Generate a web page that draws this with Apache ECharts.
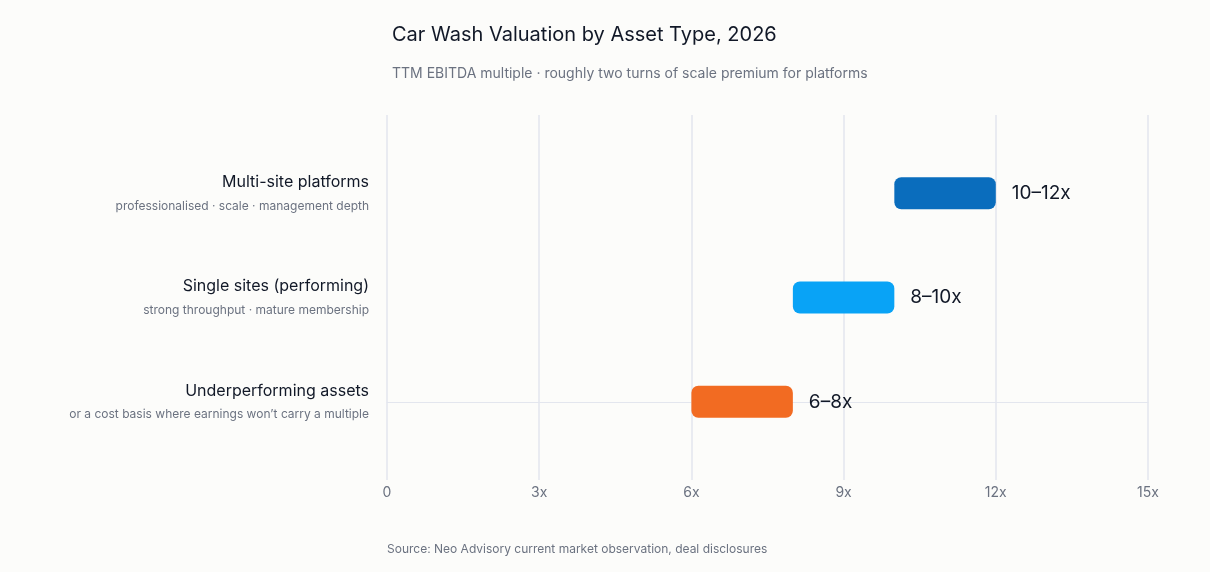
<!DOCTYPE html>
<html><head><meta charset="utf-8">
<script src="https://cdn.jsdelivr.net/npm/echarts@6/dist/echarts.min.js"></script>
<style>html,body{margin:0;background:#fcfcfa}#c{width:1210px;height:572px}</style>
</head><body><div id="c"></div>
<script>
const names = ['Underperforming assets', 'Single sites (performing)', 'Multi-site platforms'];
const notes = ['or a cost basis where earnings won\u2019t carry a multiple', 'strong throughput \u00b7 mature membership', 'professionalised \u00b7 scale \u00b7 management depth'];
const lows = [6, 8, 10];
const highs = [8, 10, 12];
const rangeLabels = ['6\u20138x', '8\u201310x', '10\u201312x'];
const colors = ['#F26B22', '#09A3F6', '#0A6DBD'];
const tickLabels = {0: '0', 3: '3x', 6: '6x', 9: '9x', 12: '12x', 15: '15x'};

const data = names.map((n, i) => [lows[i], highs[i], i]);
const font = 'Inter, "Noto Sans", sans-serif';

const chart = echarts.init(document.getElementById('c'));
chart.setOption({
  backgroundColor: '#fcfcfa',
  title: {
    text: 'Car Wash Valuation by Asset Type, 2026',
    subtext: 'TTM EBITDA multiple \u00b7 roughly two turns of scale premium for platforms',
    left: 387, top: 20, itemGap: 22,
    textStyle: {fontFamily: font, fontSize: 20, fontWeight: 'normal', color: '#111827'},
    subtextStyle: {fontFamily: font, fontSize: 14, color: '#6b7280'}
  },
  graphic: [{type: 'text', left: 387, top: 543,
    style: {text: 'Source: Neo Advisory current market observation, deal disclosures', font: '12px ' + font, fill: '#6b7280'}}],
  grid: {left: 387, right: 62, top: 115, bottom: 92},
  xAxis: {
    type: 'value', min: 0, max: 15, interval: 3,
    axisLine: {show: true, lineStyle: {color: '#e3e6ee'}},
    axisTick: {show: false},
    splitLine: {lineStyle: {color: '#e3e6ee', width: 1.5}},
    axisLabel: {color: '#6b7280', fontSize: 14, fontFamily: font, margin: 6, formatter: v => tickLabels[v]}
  },
  yAxis: {type: 'value', min: -0.75, max: 2.75, show: false},
  series: [{
    type: 'custom',
    clip: false,
    data: data,
    encode: {x: [0, 1], y: 2},
    renderItem: function (params, api) {
      const i = params.dataIndex;
      const a = api.coord([api.value(0), api.value(2)]);
      const b = api.coord([api.value(1), api.value(2)]);
      const h = 32;
      return {type: 'group', children: [
        {type: 'rect', shape: {x: a[0], y: a[1] - h / 2, width: b[0] - a[0], height: h, r: 7},
          style: {fill: colors[i]}},
        {type: 'text', x: b[0] + 16, y: a[1],
          style: {text: rangeLabels[i], font: '19px ' + font, fill: '#111827', verticalAlign: 'middle'}},
        {type: 'text', x: 369, y: a[1] - 11,
          style: {text: names[i], font: '16px ' + font, fill: '#111827', align: 'right', verticalAlign: 'middle'}},
        {type: 'text', x: 369, y: a[1] + 13,
          style: {text: notes[i], font: '12px ' + font, fill: '#6b7280', align: 'right', verticalAlign: 'middle'}}
      ]};
    }
  }]
});
</script></body></html>
